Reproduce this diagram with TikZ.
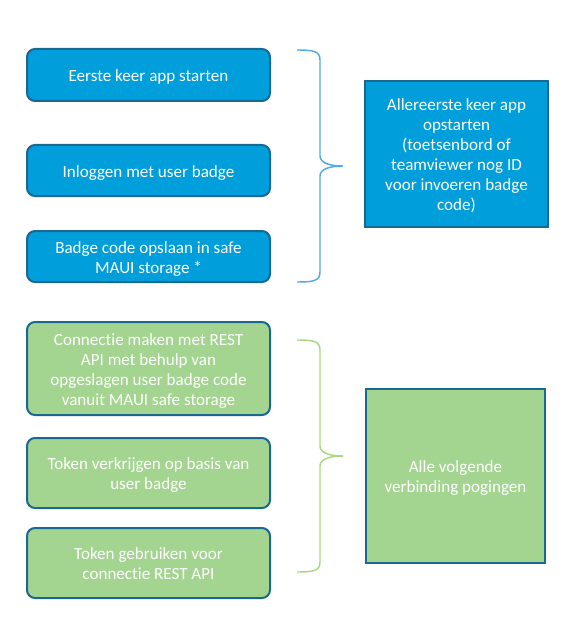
\documentclass[tikz,border=0pt]{standalone}
\usepackage{fontspec}
\setmainfont[Ligatures=NoCommon]{Carlito}
\definecolor{boxblue}{RGB}{0,158,219}
\definecolor{boxgreen}{RGB}{163,213,144}
\definecolor{boxborder}{RGB}{26,103,146}
\definecolor{braceblue}{RGB}{84,170,222}
\definecolor{bracegreen}{RGB}{170,216,128}
\newdimen\pxu
\pxu=0.75pt
\newcommand\bxt[1]{\raisebox{-2pt}[\height][\depth]{\begin{tabular}{@{}c@{}}#1\end{tabular}}}
\begin{document}
\begin{tikzpicture}[x=0.75pt,y=-0.75pt,
  every node/.style={font=\fontsize{12.8pt}{15pt}\selectfont, text=white, align=center, inner sep=0pt},
  leftbox/.style={draw=boxborder, line width=1.5pt, rounded corners=6pt, minimum width=243\pxu},
  bluebox/.style={leftbox, fill=boxblue},
  greenbox/.style={leftbox, fill=boxgreen},
  rightbox/.style={draw=boxborder, line width=1.5pt},
  bracestyle/.style={line width=1.1pt}]
\useasboundingbox (0,0) rectangle (577,631);
% blue group
\node[bluebox, minimum height=52\pxu] (b1) at (148.5,75) {\bxt{Eerste keer app starten}};
\node[bluebox, minimum height=51\pxu] (b2) at (148.5,170.5) {\bxt{Inloggen met user badge}};
\node[bluebox, minimum height=51\pxu] (b3) at (148.5,256.5) {\bxt{Badge code opslaan in safe\\MAUI storage *}};
\node[rightbox, fill=boxblue, minimum width=183\pxu, minimum height=146\pxu] (rb) at (456.5,154) {\bxt{Allereerste keer app\\opstarten\\(toetsenbord of\\teamviewer nog ID\\voor invoeren badge\\code)}};
% green group
\node[greenbox, minimum height=93\pxu] (g1) at (148.5,368.5) {\bxt{Connectie maken met REST\\API met behulp van\\opgeslagen user badge code\\vanuit MAUI safe storage}};
\node[greenbox, minimum height=70\pxu] (g2) at (148.5,473) {\bxt{Token verkrijgen op basis van\\user badge}};
\node[greenbox, minimum height=70\pxu] (g3) at (148.5,563) {\bxt{Token gebruiken voor\\connectie REST API}};
\node[rightbox, fill=boxgreen, minimum width=179\pxu, minimum height=174\pxu] (rg) at (455.5,476) {\bxt{Alle volgende\\verbinding pogingen}};
% braces
\coordinate (bt) at (297,50);
\coordinate (bm) at (343,166);
\coordinate (bb) at (297,282);
\draw[bracestyle, draw=braceblue] (bt) .. controls (313,50) and (320,51) .. (320,60) -- (320,156)
  .. controls (320,163) and (330,166) .. (bm)
  .. controls (330,166) and (320,169) .. (320,176) -- (320,272)
  .. controls (320,281) and (313,282) .. (bb);
\coordinate (gt) at (297,340);
\coordinate (gm) at (343,456);
\coordinate (gb) at (297,572);
\draw[bracestyle, draw=bracegreen] (gt) .. controls (313,340) and (320,341) .. (320,350) -- (320,446)
  .. controls (320,453) and (330,456) .. (gm)
  .. controls (330,456) and (320,459) .. (320,466) -- (320,562)
  .. controls (320,571) and (313,572) .. (gb);
\end{tikzpicture}
\end{document}
